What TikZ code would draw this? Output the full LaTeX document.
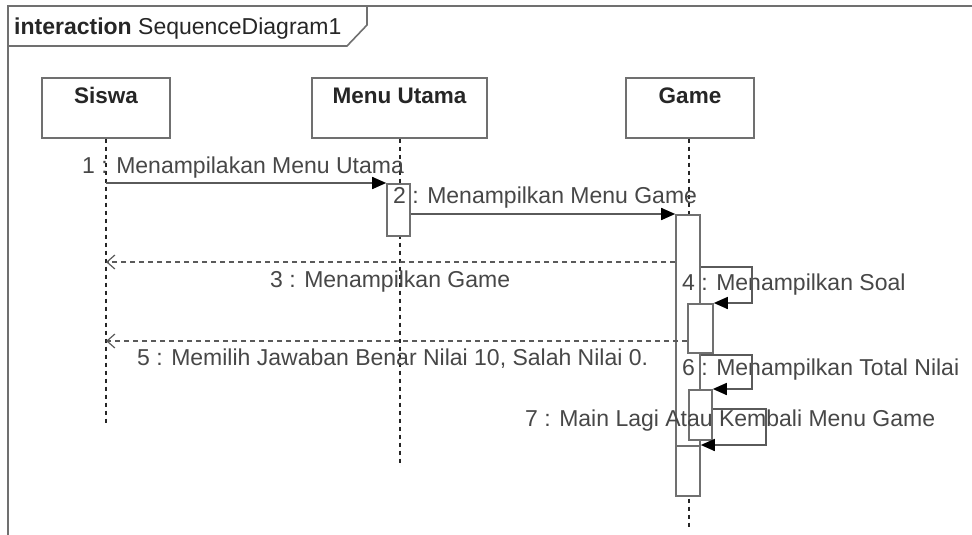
\documentclass[tikz,border=0pt]{standalone}
\usepackage{fontspec}
\setmainfont{Liberation Sans}
\usepackage{xcolor}
\usepackage{tikz}
\usetikzlibrary{arrows.meta,positioning,calc}
\definecolor{edge}{HTML}{707070}
\definecolor{wire}{HTML}{5A5A5A}
\definecolor{ink}{HTML}{474747}
\definecolor{dark}{HTML}{262626}
\tikzset{
  frame/.style={draw=edge,line width=1.6pt},
  head/.style={draw=edge,line width=1.6pt,fill=white,anchor=north,minimum width=128pt,inner xsep=0pt,inner ysep=5pt,text height=21pt,text depth=29pt,font=\fontsize{22.5}{26}\selectfont\bfseries,text=dark},
  lifeline/.style={draw=dark,line width=1.1pt,dash pattern=on 4pt off 4pt},
  act/.style={draw=edge,line width=1.6pt,fill=white,minimum width=24pt,inner sep=0pt,anchor=north},
  msg/.style={draw=wire,line width=1.6pt,-{Triangle[length=14pt,width=12pt,color=black]}},
  reply/.style={draw=wire,line width=1.4pt,dash pattern=on 5pt off 4pt,-{Straight Barb[length=8pt,width=14pt,line width=1.2pt]}},
  msglabel/.style={anchor=base west,inner sep=0pt,font=\fontsize{23}{26}\selectfont,text=ink}
}
\begin{document}
\begin{tikzpicture}[x=1pt,y=-1pt]
  \useasboundingbox (0,0) rectangle (972,535);

  \draw[frame] (8,535) -- (8,6) -- (972,6);
  \draw[frame] (8,46) -- (347,46) -- (367,25) -- (367,6);
  \node[msglabel,text=dark] (title) at (14,35) {\textbf{interaction} SequenceDiagram1};

  \node[head] (siswa) at (106,77) {Siswa};
  \node[head,minimum width=175pt] (menu) at (399.5,77) {Menu Utama};
  \node[head] (game) at (690,77) {Game};

  \coordinate (siswaend) at (106,425);
  \coordinate (menuend) at (400,465);
  \coordinate (gameend) at (689,527);
  \draw[lifeline] (siswa.south) -- (siswaend);
  \draw[lifeline] (menu.south -| menuend) -- (menuend);
  \draw[lifeline] (game.south -| gameend) -- (gameend);

  \node[act,minimum height=52pt,minimum width=23pt] (actmenu) at (398.5,183) {};
  \node[act,minimum height=281pt] (actgame) at (688,214) {};
  \node[act,minimum height=49pt,minimum width=25pt] (act4) at (700.5,303) {};
  \node[act,minimum height=50pt,minimum width=23pt] (act6) at (700.5,389) {};
  \node[act,minimum height=50pt] (act7) at (688,445) {};

  \node[msglabel] (lbl1) at (82,173) {1 : Menampilakan Menu Utama};
  \node[msglabel] (lbl2) at (393,203) {2 : Menampilkan Menu Game};
  \node[msglabel] (lbl3) at (270,287) {3 : Menampilkan Game};
  \node[msglabel] (lbl4) at (682,290) {4 : Menampilkan Soal};
  \node[msglabel] (lbl5) at (137,365) {5 : Memilih Jawaban Benar Nilai 10, Salah Nilai 0.};
  \node[msglabel] (lbl6) at (682,375) {6 : Menampilkan Total Nilai};
  \node[msglabel] (lbl7) at (525,426) {7 : Main Lagi Atau Kembali Menu Game};

  \coordinate (ret3) at (106,262);
  \coordinate (ret5) at (106,341);
  \coordinate (loop4) at (752,267);
  \coordinate (loop6) at (752,355);
  \coordinate (loop7) at (766,409);

  \draw[msg] (siswa |- actmenu.north west) -- (actmenu.north west);
  \draw[msg] (actmenu.east |- actgame.north west) -- (actgame.north west);
  \draw[reply] (actgame.west |- ret3) -- (ret3);
  \draw[msg] (actgame.east |- loop4) -- (loop4) |- (act4.north east);
  \draw[reply] (act4.west |- ret5) -- (ret5);
  \draw[msg] (actgame.east |- loop6) -- (loop6) |- (act6.north east);
  \draw[msg] (act6.east |- loop7) -- (loop7) |- (act7.north east);
\end{tikzpicture}
\end{document}
